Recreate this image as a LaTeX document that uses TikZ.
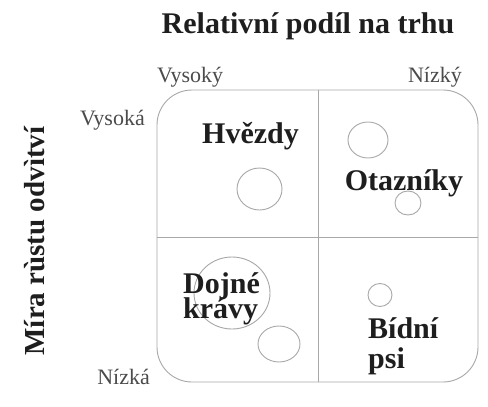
\documentclass[tikz,border=0pt]{standalone}
\usepackage{fontspec}
\setmainfont{Liberation Serif}
\definecolor{linegray}{HTML}{A8A8A8}
\definecolor{txt}{HTML}{1E1E1E}
\begin{document}
\begin{tikzpicture}[x=1pt,y=-1pt,
  big/.style={font=\fontsize{30}{30}\selectfont\bfseries, text=txt, inner sep=0pt},
  axislab/.style={font=\fontsize{29}{29}\selectfont\bfseries, text=txt, inner sep=0pt},
  small/.style={font=\fontsize{22}{22}\selectfont, text=txt!80, inner sep=0pt},
  frame/.style={draw=linegray, line width=0.9pt},
  bubble/.style={draw=linegray, line width=0.9pt}]
\useasboundingbox (0,0) rectangle (488,407);
\fill[white] (0,0) rectangle (488,407);
% title and axis labels
\node[big, anchor=base] (title) at (308,33) {Relativní podíl na trhu};
\node[axislab, anchor=base, rotate=90] (ylab) at (44,241) {Míra rùstu odvìtví};
\node[small, anchor=base west] (vysoky) at (157,82) {Vysoký};
\node[small, anchor=base east] (nizky) at (462,82) {Nízký};
\node[small, anchor=base east] (vysoka) at (145,125) {Vysoká};
\node[small, anchor=base east] (nizka) at (150,384) {Nízká};
% frame
\draw[frame, rounded corners=35pt] (157,90) rectangle (478,382);
\coordinate (vt) at (318,90);
\coordinate (vb) at (318,382);
\coordinate (hl) at (157,237);
\coordinate (hr) at (478,237);
\draw[frame] (vt) -- (vb);
\draw[frame] (hl) -- (hr);
% bubbles
\draw[bubble] (259.5,189) ellipse [x radius=22.5, y radius=21];
\draw[bubble] (368,140) ellipse [x radius=20, y radius=18];
\draw[bubble] (408,203) ellipse [x radius=13, y radius=12];
\draw[bubble] (232,293) ellipse [x radius=38, y radius=36];
\draw[bubble] (279,344) ellipse [x radius=21, y radius=18];
\draw[bubble] (380,295) ellipse [x radius=12, y radius=11.5];
% quadrant labels
\node[big, anchor=base west] (hvezdy) at (202,143) {Hvězdy};
\node[big, anchor=base] (otazniky) at (404,190) {Otazníky};
\node[big, anchor=base west] (dojne) at (183,293) {Dojné};
\node[big, anchor=base west] (kravy) at (183,318) {krávy};
\node[big, anchor=base west] (bidni) at (368,338) {Bídní};
\node[big, anchor=base west] (psi) at (368,368) {psi};
\end{tikzpicture}
\end{document}
